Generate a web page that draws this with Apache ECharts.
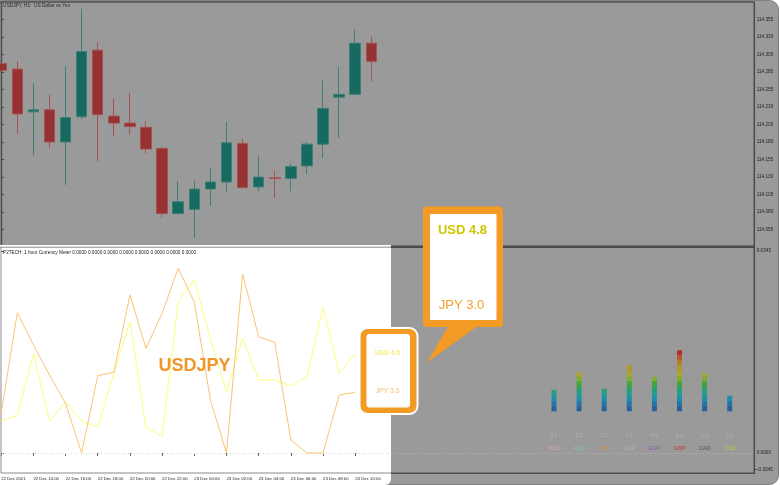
<!DOCTYPE html>
<html><head><meta charset="utf-8">
<script src="https://cdn.jsdelivr.net/npm/echarts@6/dist/echarts.min.js"></script>
<style>html,body{margin:0;padding:0;background:#fff}#c{width:780px;height:485px}</style>
</head><body><div id="c"></div>
<script>
// ---------- DATA ----------
const chartTitle = 'USDJPY, H1:  US Dollar vs Yen';
const indicatorTitle = 'P2TECH: 1 hour Currency Meter 0.0000 0.0000 0.0000 0.0000 0.0000 0.0000 0.0000 0.0000';
const pairName = 'USDJPY';
// hourly candles, index 0 = 22 Dec 12:00
const candleOpen  = [114.292,114.284,114.223,114.226,114.180,114.216,114.311,114.217,114.207,114.201,114.171,114.078,114.084,114.113,114.123,114.178,114.116,114.129,114.128,114.146,114.177,114.244,114.248,114.321];
const candleClose = [114.282,114.220,114.226,114.180,114.215,114.309,114.219,114.207,114.202,114.170,114.078,114.095,114.113,114.123,114.179,114.115,114.130,114.128,114.145,114.177,114.228,114.248,114.321,114.295];
const candleLow   = [114.280,114.192,114.161,114.172,114.119,114.213,114.152,114.188,114.191,114.164,114.072,114.077,114.044,114.089,114.109,114.114,114.110,114.101,114.110,114.134,114.157,114.186,114.247,114.267];
const candleHigh  = [114.294,114.295,114.264,114.248,114.288,114.370,114.322,114.242,114.250,114.210,114.172,114.124,114.125,114.144,114.209,114.184,114.160,114.139,114.149,114.180,114.268,114.287,114.341,114.330];
const priceTicks = ['114.355','114.330','114.305','114.280','114.255','114.230','114.205','114.180','114.155','114.130','114.105','114.080','114.055'];
const timeTickIndex = [0,2,4,6,8,10,12,14,16,18,20,22];
const timeTickLabels = ['22 Dec 2021','22 Dec 14:00','22 Dec 16:00','22 Dec 18:00','22 Dec 20:00','22 Dec 22:00','23 Dec 00:00','23 Dec 02:00','23 Dec 04:00','23 Dec 06:00','23 Dec 08:00','23 Dec 10:00'];
const usdStrength = [1.44,1.67,4.43,1.43,2.29,1.43,1.15,3.56,5.87,1.13,0.76,6.77,7.77,5.10,2.74,5.13,3.26,3.26,3.00,3.41,6.54,3.56,4.43];
const jpyStrength = [1.78,6.27,4.83,3.49,2.22,0.00,3.46,3.61,7.07,4.68,6.25,8.26,6.75,2.37,0.00,8.01,5.20,4.95,0.58,0.00,0.00,2.59,2.71];
const meterAxisLabels = ['9.0345','0.0000','-0.3345'];
const meterCurrencies = ['NZD','AUD','JPY','CHF','EUR','GBP','CAD','USD'];
const meterValues = [3.0,5.5,3.2,6.5,4.9,8.6,5.4,2.2];
const calloutUsd = 'USD 4.8';
const calloutJpy = 'JPY 3.0';

// ---------- STYLE ----------
const FONT = '"Liberation Sans", Arial, sans-serif';
const currencyColors = ['#d9a3a3','#7fc3b6','#d49436','#b4b4b4','#9556ae','#c83c3c','#2f6b2f','#c9c33c'];
const blockColors = ['#2b5f9f','#2676aa','#1f90a8','#1fa08e','#2ca068','#46a63c','#84ac30','#a8a830','#b09830','#b47e30','#b45a30','#b03030'];

const barGrid = {left: 541.45, top: 340.3, width: 200.8, height: 71};
const barBottom = barGrid.top + barGrid.height;
const blockPx = 5.1;
const stops = [];
blockColors.forEach((c, i) => {
  stops.push({offset: i / blockColors.length, color: c});
  stops.push({offset: (i + 1) / blockColors.length, color: c});
});
const barGradient = new echarts.graphic.LinearGradient(0, barBottom, 0, barBottom - blockPx * blockColors.length, stops, true);

const rich = {v: {fontSize: 5, color: '#a9b1bf', lineHeight: 12.6, fontFamily: FONT}};
meterCurrencies.forEach((c, i) => {
  rich['c' + i] = {fontSize: 5.6, color: currencyColors[i], lineHeight: 12.6, fontFamily: FONT};
});

const candleData = candleOpen.map((o, i) => [i, o, candleClose[i], candleLow[i], candleHigh[i]]);
const usdData = usdStrength.map((v, i) => [i, v]);
const jpyData = jpyStrength.map((v, i) => [i, v]);

function line(x1, y1, x2, y2, color, w, dash) {
  return {type: 'line', z: 1, silent: true, shape: {x1, y1, x2, y2},
    style: {stroke: color, lineWidth: w, lineDash: dash || null}};
}
function text(x, y, t, font, fill, align) {
  return {type: 'text', z: 50, silent: true, x, y,
    style: {text: t, font, fill, align: align || 'left', verticalAlign: 'middle', textAlign: align || 'left', textVerticalAlign: 'middle'}};
}

const graphics = [
  {type: 'rect', z: -20, silent: true, shape: {x: 0.5, y: 0.5, width: 778, height: 484, r: [0, 9, 9, 0]}, style: {fill: '#9a9a9a', stroke: '#808080', lineWidth: 1}},
  {type: 'rect', z: -19, silent: true, shape: {x: 0, y: 245, width: 391, height: 240, r: [0, 0, 6, 0]}, style: {fill: '#ffffff'}},
  line(0, 2, 754.5, 2, '#4e4e4e', 1.5),
  line(1.6, 2, 1.6, 245, '#4e4e4e', 1.2),
  line(754.3, 2, 754.3, 474, '#4a4a4a', 1.5),
  line(391, 246.8, 754.3, 246.8, '#4a4a4a', 2.5),
  line(0, 247.2, 391, 247.2, '#8c8c8c', 1),
  line(391, 473.3, 754.3, 473.3, '#4e4e4e', 1.5),
  line(1, 473, 391, 473, '#8a8a8a', 1),
  line(1, 247, 1, 473, '#8a8a8a', 1),
  line(2, 453.5, 391, 453.5, '#d6d6d6', 1, [1, 2]),
  line(391, 453.5, 753, 453.5, '#b4b4b4', 1, [1, 2]),
  line(754.5, 469.5, 756.5, 469.5, '#333', 1),
  text(3, 5.3, chartTitle, '4.8px ' + FONT, '#262626'),
  text(3, 253.2, indicatorTitle, '4.7px ' + FONT, '#1a1a1a'),
  text(194.5, 366.5, pairName, 'bold 18px ' + FONT, '#f0962c', 'center'),
  text(757, 469.5, meterAxisLabels[2], '4.7px ' + FONT, '#222'),
  // small callout
  {type: 'rect', z: 40, silent: true, shape: {x: 358.5, y: 327, width: 60, height: 88, r: 9}, style: {fill: '#ffffff'}},
  {type: 'rect', z: 41, silent: true, shape: {x: 360.5, y: 329, width: 56, height: 84, r: 7}, style: {fill: '#f39c25'}},
  {type: 'rect', z: 42, silent: true, shape: {x: 366.5, y: 334, width: 43.5, height: 73.5, r: 3}, style: {fill: '#ffffff'}},
  text(387.5, 353.3, calloutUsd, 'bold 6.6px ' + FONT, '#f3ef78', 'center'),
  text(387.5, 391, calloutJpy, '6.9px ' + FONT, '#f5bf6c', 'center'),
  // big callout
  {type: 'polygon', z: 40, silent: true, shape: {points: [[449, 325], [479, 325], [427, 362.5]]}, style: {fill: '#f39c25'}},
  {type: 'rect', z: 41, silent: true, shape: {x: 423, y: 206.5, width: 80, height: 120.5, r: 4}, style: {fill: '#f39c25'}},
  {type: 'rect', z: 42, silent: true, shape: {x: 430, y: 214, width: 66.5, height: 106, r: 1}, style: {fill: '#ffffff'}},
  text(462.5, 230, calloutUsd, 'bold 13px ' + FONT, '#cfc600', 'center'),
  text(461.5, 305, calloutJpy, '13px ' + FONT, '#f2a12e', 'center')
];

const chart = echarts.init(document.getElementById('c'), null, {renderer: 'canvas'});
chart.setOption({
  animation: false,
  backgroundColor: '#ffffff',
  grid: [
    {left: 1.2, top: 3, width: 751.8, height: 243, outerBoundsMode: 'none'},
    {left: 1.2, top: 249, width: 751.8, height: 224, outerBoundsMode: 'none'},
    Object.assign({outerBoundsMode: 'none'}, barGrid)
  ],
  xAxis: [
    {type: 'value', gridIndex: 0, min: 0, max: 46.72, show: false},
    {type: 'value', gridIndex: 1, min: 0, max: 46.72,
      axisLine: {show: false}, splitLine: {show: false},
      axisTick: {show: true, customValues: timeTickIndex, length: 3, lineStyle: {color: '#666', width: 1}},
      axisLabel: {show: true, customValues: timeTickIndex, align: 'left', margin: 3.5, fontSize: 4.3, fontFamily: FONT, color: '#222',
        formatter: v => timeTickLabels[timeTickIndex.indexOf(v)]}},
    {type: 'category', gridIndex: 2, data: meterCurrencies,
      axisLine: {show: false}, axisTick: {show: false}, splitLine: {show: false},
      axisLabel: {interval: 0, margin: 18, rich,
        formatter: (val, idx) => '{v|' + meterValues[idx].toFixed(1) + '}\n{c' + idx + '|' + val + '}'}}
  ],
  yAxis: [
    {type: 'value', gridIndex: 0, position: 'right', min: 114.0318, max: 114.3782, scale: true,
      axisLine: {show: false}, splitLine: {show: false},
      axisTick: {show: true, customValues: priceTicks.map(Number), length: 2.5, lineStyle: {color: '#333'}},
      axisLabel: {show: true, customValues: priceTicks.map(Number), margin: 3.7, fontSize: 4.7, fontFamily: FONT, color: '#222',
        formatter: v => v.toFixed(3)}},
    {type: 'value', gridIndex: 1, position: 'right', min: -0.894, max: 9.124,
      axisLine: {show: false}, splitLine: {show: false},
      axisTick: {show: true, customValues: [Number(meterAxisLabels[0]), Number(meterAxisLabels[1])], length: 2.5, lineStyle: {color: '#333'}},
      axisLabel: {show: true, customValues: [Number(meterAxisLabels[0]), Number(meterAxisLabels[1])], margin: 3.7, fontSize: 4.7, fontFamily: FONT, color: '#222',
        formatter: v => v.toFixed(4)}},
    {type: 'value', gridIndex: 2, min: 0, max: 10, show: false}
  ],
  series: [
    {type: 'candlestick', xAxisIndex: 0, yAxisIndex: 0, data: candleData, barWidth: 11, clip: true,
      itemStyle: {color: '#176a5f', color0: '#963231', borderColor: '#3f7f76', borderColor0: '#a65352', borderWidth: 1}},
    {type: 'line', xAxisIndex: 1, yAxisIndex: 1, data: usdData, symbol: 'none', z: 3,
      lineStyle: {color: '#fdfd7c', width: 1}},
    {type: 'line', xAxisIndex: 1, yAxisIndex: 1, data: jpyData, symbol: 'none', z: 3,
      lineStyle: {color: '#fbc46f', width: 1}},
    {type: 'bar', xAxisIndex: 2, yAxisIndex: 2, data: meterValues, barWidth: 5,
      itemStyle: {color: barGradient}}
  ],
  graphic: {elements: graphics}
});
</script>
</body></html>
